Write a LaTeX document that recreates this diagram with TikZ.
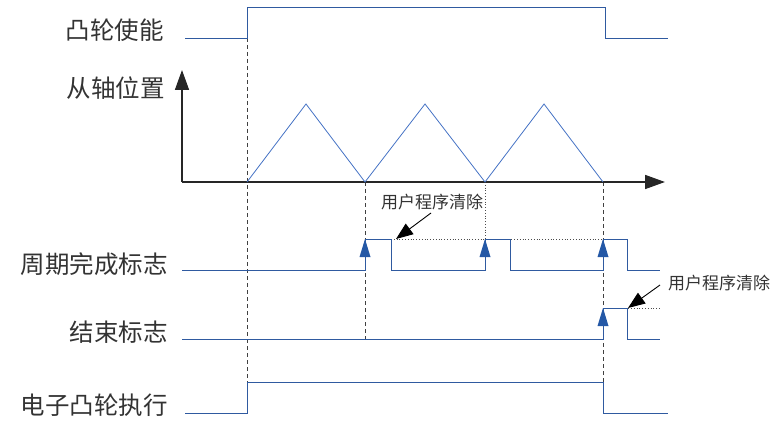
\documentclass[tikz,border=0pt]{standalone}
\usepackage{fontspec}
\setmainfont{Noto Sans CJK SC}
\usetikzlibrary{arrows.meta}
\definecolor{sig}{HTML}{2F5AA0}
\definecolor{tri}{HTML}{4472C4}
\definecolor{ahead}{HTML}{2458A6}
\tikzset{
  lbl/.style={anchor=east,font=\fontsize{24.5}{26}\selectfont,text=black!80,inner sep=0pt},
  note/.style={font=\fontsize{17}{19}\selectfont,text=black!80,inner sep=0pt},
  signal/.style={draw=sig,line width=0.9pt},
  wave/.style={draw=tri,line width=0.8pt},
  guide/.style={draw=black!75,dashed,dash pattern=on 4pt off 3pt,line width=0.8pt},
  dotguide/.style={draw=black!70,dotted,line width=0.8pt},
  axis/.style={draw=black!85,line width=1.6pt},
  callout/.style={-{Triangle[length=17pt,width=13pt]},black,line width=0.9pt},
}
\newcommand{\flagtip}[2]{\fill[ahead] (#1,#2) -- (#1-5.5,#2+18) -- (#1+5.5,#2+18) -- cycle;}
\begin{document}
\begin{tikzpicture}[x=1pt,y=-1pt]
\useasboundingbox (0,0) rectangle (773,422);
% labels
\node[lbl] (l1) at (164,30) {凸轮使能};
\node[lbl] (l2) at (165,88) {从轴位置};
\node[lbl] (l3) at (168,264) {周期完成标志};
\node[lbl] (l4) at (168,332) {结束标志};
\node[lbl] (l5) at (168,405) {电子凸轮执行};
% key coordinates
\coordinate (o) at (182,182);
\coordinate (ytip) at (182,70);
\coordinate (xtip) at (665,182);
\coordinate (v0) at (247,182);
\coordinate (p1) at (306,104);
\coordinate (v1) at (365,182);
\coordinate (p2) at (425,104);
\coordinate (v2) at (485,182);
\coordinate (p3) at (544,104);
\coordinate (v3) at (603,182);
% guides
\draw[guide] (247,38) -- (247,382);
\draw[guide] (v1) -- (365,340);
\draw[dotguide] (v2) -- (485,240);
\draw[guide] (v3) -- (603,382);
\draw[dotguide] (391,239) -- (603,239);
\draw[dotguide] (603,308) -- (660,308);
% axes
\draw[axis,-{Triangle[length=20pt,width=14pt]}] (o) -- (ytip);
\draw[axis,-{Triangle[length=20pt,width=14pt]}] (o) -- (xtip);
% wave
\draw[wave] (v0) -- (p1) -- (v1) -- (p2) -- (v2) -- (p3) -- (v3);
% signals
\draw[signal] (185,38) -- (247,38) -- (247,7) -- (605,7) -- (605,38) -- (668,38);
\draw[signal] (182,270) -- (365,270) -- (365,239) -- (391,239) -- (391,270) -- (485,270) -- (485,239) -- (510,239) -- (510,270) -- (603,270) -- (603,239) -- (627,239) -- (627,270) -- (660,270);
\draw[signal] (182,339) -- (603,339) -- (603,308) -- (627,308) -- (627,339) -- (660,339);
\draw[signal] (185,413) -- (247,413) -- (247,382) -- (603,382) -- (603,413) -- (668,413);
% flag arrowheads
\flagtip{365}{239}
\flagtip{485}{239}
\flagtip{603}{239}
\flagtip{603}{308}
% callouts
\node[note] (n1) at (432,202) {用户程序清除};
\node[note] (n2) at (719,283) {用户程序清除};
\coordinate (c1) at (396,239);
\coordinate (c2) at (628,308);
\draw[callout] (431,213) -- (c1);
\draw[callout] (660,285) -- (c2);
\end{tikzpicture}
\end{document}
